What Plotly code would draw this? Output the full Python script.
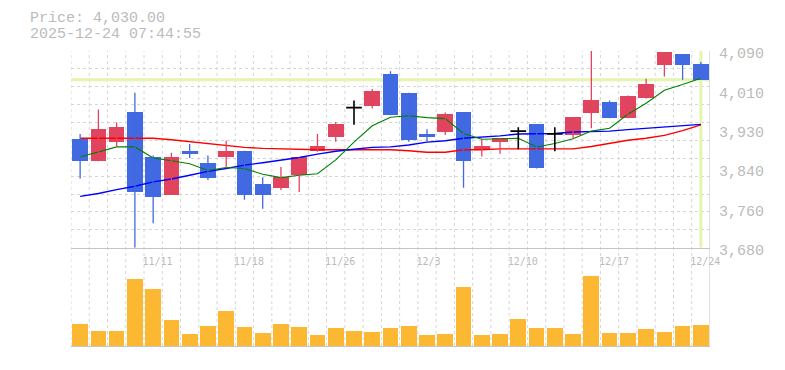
import plotly.graph_objects as go

# ---- data ----
dates = ["11/5", "11/6", "11/7", "11/10", "11/11", "11/12", "11/13", "11/14", "11/17", "11/18",
         "11/19", "11/20", "11/21", "11/25", "11/26", "11/27", "11/28", "12/1", "12/2", "12/3",
         "12/4", "12/5", "12/8", "12/9", "12/10", "12/11", "12/12", "12/15", "12/16", "12/17",
         "12/18", "12/19", "12/22", "12/23", "12/24"]
open_ = [3907, 3860, 3901, 3962, 3868, 3790, 3882, 3857, 3870, 3882,
         3813, 3805, 3831, 3881, 3911, 3972, 3975, 4042, 4003, 3916,
         3922, 3962, 3885, 3901, 3923, 3937, 3917, 3915, 3961, 3983,
         3950, 3991, 4061, 4083, 4063]
high = [3917, 3968, 3941, 4003, 3872, 3878, 3896, 3872, 3903, 3882,
        3827, 3848, 3868, 3917, 3942, 3987, 4011, 4048, 4003, 3927,
        3962, 3962, 3907, 3908, 3931, 3937, 3931, 3952, 4090, 3987,
        3997, 4032, 4087, 4083, 4067]
low = [3824, 3860, 3890, 3680, 3731, 3790, 3867, 3821, 3846, 3780,
       3761, 3800, 3796, 3880, 3901, 3936, 3970, 3956, 3901, 3902,
       3915, 3805, 3870, 3876, 3885, 3845, 3881, 3907, 3929, 3950,
       3950, 3991, 4037, 4030, 4030]
close = [3860, 3927, 3931, 3796, 3786, 3868, 3876, 3825, 3882, 3790,
         3790, 3827, 3868, 3892, 3937, 3972, 4007, 3957, 3905, 3911,
         3958, 3860, 3892, 3908, 3923, 3846, 3917, 3952, 3987, 3950,
         3997, 4022, 4087, 4061, 4030]
volume = [22, 15, 15, 68, 58, 26, 12, 20, 35, 19,
          13, 22, 19, 11, 18, 15, 14, 18, 20, 11,
          12, 60, 11, 12, 27, 18, 18, 12, 71, 13,
          13, 17, 14, 20, 21]
ma_short = [3869, 3879, 3890, 3890, 3867, 3861, 3855, 3841, 3847, 3845,
            3833, 3826, 3831, 3834, 3863, 3900, 3934, 3952, 3955, 3951,
            3949, 3918, 3906, 3907, 3908, 3890, 3897, 3907, 3923, 3929,
            3958, 3981, 4008, 4020, 4033]
ma_mid = [3787, 3793, 3801, 3808, 3817, 3823, 3831, 3839, 3845, 3852,
          3857, 3862, 3868, 3875, 3881, 3885, 3889, 3890, 3894, 3900,
          3903, 3908, 3910, 3913, 3917, 3918, 3918, 3921, 3922, 3923,
          3926, 3929, 3931, 3935, 3937]
ma_long = [3908, 3908, 3908, 3908, 3908, 3905, 3901, 3896, 3892, 3889,
           3887, 3886, 3884, 3884, 3884, 3884, 3884, 3884, 3882, 3879,
           3879, 3884, 3884, 3886, 3886, 3886, 3886, 3886, 3891, 3897,
           3904, 3908, 3914, 3924, 3936]
label_dates = ["11/11", "11/18", "11/26", "12/3", "12/10", "12/17", "12/24"]
price_ticks = [3680, 3762, 3844, 3926, 4008, 4090]
price_tick_text = ["3,680", "3,760", "3,840", "3,930", "4,010", "4,090"]
last_price = 4030
title_line1 = "Price: 4,030.00"
title_line2 = "2025-12-24 07:44:55"

# ---- styling ----
UP = "#e0445e"
DOWN = "#4169e1"
DOJI = "#000000"
VOL = "#fcb833"
GRID = "#d6d6d6"
AXIS = "#c4c4c4"
TXT = "#bbbbbb"
LIME = "#e4f5ad"
BODY_W = 0.86

n = len(dates)
xs = list(range(n))
ymin, ymax = 3680, 4090

fig = go.Figure()

# moving averages (below candles)
for vals, col, w in [(ma_long, "#ff0000", 1.4), (ma_mid, "#0000ff", 1.4), (ma_short, "#008000", 1.1)]:
    fig.add_trace(go.Scatter(x=xs, y=vals, mode="lines", line=dict(color=col, width=w),
                             xaxis="x", yaxis="y", hoverinfo="skip"))

# wicks
groups = {UP: ([], []), DOWN: ([], []), DOJI: ([], [])}
kinds = []
for i in xs:
    if close[i] > open_[i]:
        k = UP
    elif close[i] < open_[i]:
        k = DOWN
    else:
        k = DOJI
    kinds.append(k)
    gx, gy = groups[k]
    gx += [i, i, None]
    gy += [low[i], high[i], None]
for col, (gx, gy) in groups.items():
    fig.add_trace(go.Scatter(x=gx, y=gy, mode="lines",
                             line=dict(color=col, width=1.3 if col != DOJI else 1.6),
                             xaxis="x", yaxis="y", hoverinfo="skip"))

# bodies
bx, bbase, bh, bcol = [], [], [], []
for i in xs:
    if kinds[i] == DOJI:
        continue
    bx.append(i)
    bbase.append(min(open_[i], close[i]))
    bh.append(abs(close[i] - open_[i]))
    bcol.append(kinds[i])
fig.add_trace(go.Bar(x=bx, y=bh, base=bbase, width=BODY_W, marker=dict(color=bcol, line=dict(width=0)),
                     xaxis="x", yaxis="y", hoverinfo="skip"))

# doji horizontal strokes
dx, dy = [], []
for i in xs:
    if kinds[i] == DOJI:
        dx += [i - BODY_W / 2, i + BODY_W / 2, None]
        dy += [open_[i], open_[i], None]
fig.add_trace(go.Scatter(x=dx, y=dy, mode="lines", line=dict(color=DOJI, width=1.8),
                         xaxis="x", yaxis="y", hoverinfo="skip"))

# volume
fig.add_trace(go.Bar(x=xs, y=volume, width=BODY_W, marker=dict(color=VOL, line=dict(width=0)),
                     xaxis="x2", yaxis="y2", hoverinfo="skip"))
# invisible trace to activate the label axis
fig.add_trace(go.Scatter(x=[0], y=[ymin], mode="markers", marker=dict(opacity=0),
                         xaxis="x", yaxis="y3", hoverinfo="skip"))

shapes = []
for i in range(n):
    shapes.append(dict(type="line", xref="x", yref="paper", x0=i - 0.5, x1=i - 0.5, y0=0, y1=1,
                       line=dict(color=GRID, width=1, dash="3px,3px"), layer="below"))
shapes.append(dict(type="line", xref="x", yref="paper", x0=n - 0.5, x1=n - 0.5, y0=0, y1=1,
                   line=dict(color=AXIS, width=1), layer="above"))
shapes.append(dict(type="line", xref="x", yref="y", x0=-0.5, x1=n - 0.5, y0=last_price, y1=last_price,
                   line=dict(color=LIME, width=3), layer="between"))
shapes.append(dict(type="line", xref="x", yref="y", x0=n - 1, x1=n - 1, y0=ymin, y1=ymax,
                   line=dict(color=LIME, width=3), layer="between"))

L, R, T, B = 71, 75, 51, 20
W, H = 785, 370
ph = H - T - B
main_bottom = (H - B - 250.3) / ph
vol_top = (H - B - 262) / ph
grid_vals = [ymin + k * (ymax - ymin) / 11 for k in range(12)]

fig.update_layout(
    width=W, height=H,
    margin=dict(l=L, r=R, t=T, b=B, pad=0),
    paper_bgcolor="white", plot_bgcolor="white",
    showlegend=False, hovermode=False, bargap=0,
    shapes=shapes,
    xaxis=dict(domain=[0, 1], anchor="y", range=[-0.5, n - 0.5], showgrid=False, zeroline=False,
               showline=True, linecolor=AXIS, linewidth=1, ticks="",
               tickvals=[dates.index(d) - 0.5 for d in label_dates], ticktext=label_dates,
               ticklabelposition="outside right", ticklabelshift=-2, ticklabelstandoff=4,
               tickfont=dict(family="DejaVu Sans Mono", size=10, color=TXT)),
    yaxis=dict(domain=[main_bottom, 1], anchor="x", range=[ymin, ymax], side="right",
               tickvals=grid_vals, showticklabels=False, ticks="", showgrid=True,
               gridcolor=GRID, gridwidth=1, griddash="3px,3px", zeroline=False, showline=False),
    yaxis3=dict(overlaying="y", anchor="x", side="right", range=[ymin, ymax],
                tickvals=price_ticks, ticktext=price_tick_text, showgrid=False, zeroline=False,
                showline=False, ticks="", ticklabelshift=2, ticklabelstandoff=8,
                tickfont=dict(family="Liberation Mono", size=15, color=TXT)),
    xaxis2=dict(domain=[0, 1], anchor="y2", range=[-0.5, n - 0.5], showgrid=False, zeroline=False,
                showline=True, linecolor=AXIS, linewidth=1, showticklabels=False, ticks=""),
    yaxis2=dict(domain=[0, vol_top], anchor="x2", range=[0, vol_top * ph], showgrid=False,
                zeroline=False, showline=False, showticklabels=False, ticks=""),
    annotations=[
        dict(text=title_line1, xref="paper", yref="paper", x=(28.5 - L) / 639, y=(H - B - 18.5) / ph,
             xanchor="left", yanchor="middle", showarrow=False, borderpad=0,
             font=dict(family="Liberation Mono", size=15, color=TXT)),
        dict(text=title_line2, xref="paper", yref="paper", x=(28.5 - L) / 639, y=(H - B - 34.5) / ph,
             xanchor="left", yanchor="middle", showarrow=False, borderpad=0,
             font=dict(family="Liberation Mono", size=15, color=TXT)),
    ],
)

fig.write_html("out.html", config={"displayModeBar": False, "staticPlot": True},
               post_script="document.body.style.margin='0';")
